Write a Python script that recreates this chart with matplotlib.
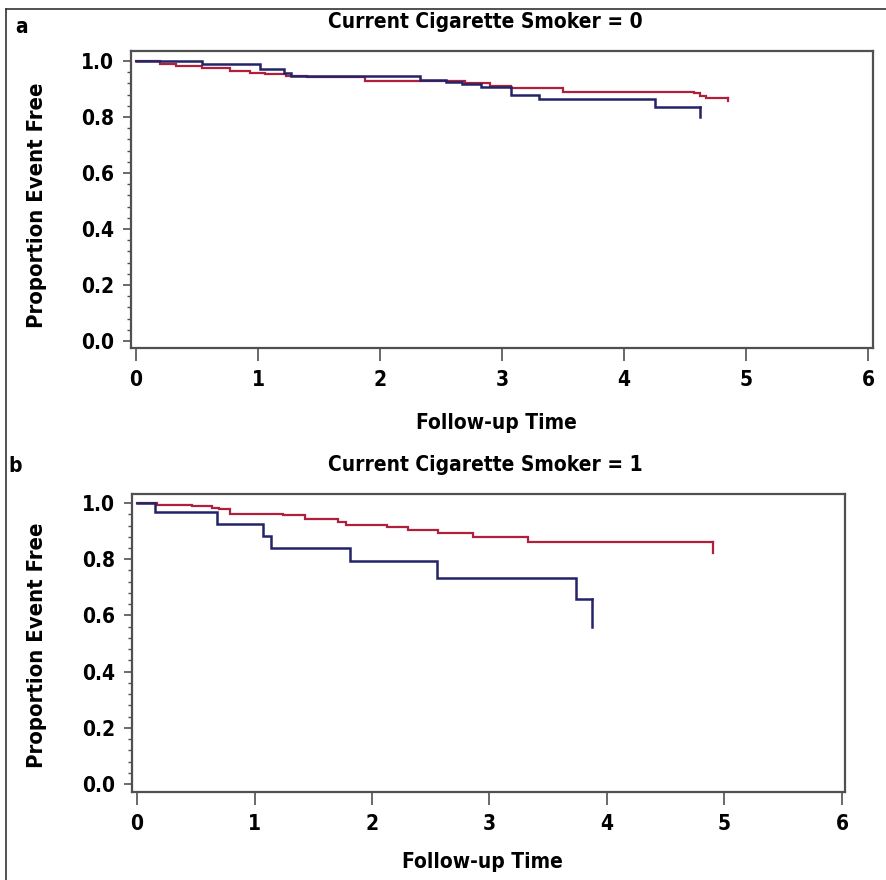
import matplotlib
matplotlib.use("Agg")
import matplotlib.pyplot as plt
from matplotlib.lines import Line2D
from matplotlib.ticker import MultipleLocator

FONT = ['DejaVu Sans']
plt.rcParams['font.family'] = FONT
plt.rcParams['font.weight'] = 'bold'
plt.rcParams['font.stretch'] = 'condensed'

# ---- data (step curves: time, proportion event free) ----
a_g1_t = [0, 0.54, 1.02, 1.21, 1.27, 2.33, 2.54, 2.67, 2.83, 3.07, 3.30, 4.25, 4.62]
a_g1_s = [1.0, 0.990, 0.972, 0.958, 0.948, 0.931, 0.925, 0.917, 0.909, 0.879, 0.863, 0.836, 0.836]
a_g1_end = 0.800

a_g2_t = [0, 0.20, 0.33, 0.54, 0.77, 0.93, 1.06, 1.23, 1.40, 1.88, 2.70, 2.90, 3.07, 3.50, 4.57, 4.62, 4.67, 4.85]
a_g2_s = [1.0, 0.990, 0.984, 0.976, 0.966, 0.958, 0.952, 0.947, 0.942, 0.927, 0.920, 0.912, 0.903, 0.891, 0.885, 0.876, 0.869, 0.869]
a_g2_end = 0.858

b_g1_t = [0, 0.15, 0.68, 1.075, 1.14, 1.81, 2.55, 3.74, 3.87]
b_g1_s = [1.0, 0.969, 0.925, 0.883, 0.841, 0.795, 0.732, 0.657, 0.657]
b_g1_end = 0.560

b_g2_t = [0, 0.17, 0.47, 0.64, 0.70, 0.79, 1.24, 1.43, 1.71, 1.78, 2.13, 2.31, 2.56, 2.86, 3.33, 4.90]
b_g2_s = [1.0, 0.994, 0.990, 0.984, 0.977, 0.960, 0.956, 0.944, 0.932, 0.923, 0.913, 0.903, 0.892, 0.880, 0.863, 0.863]
b_g2_end = 0.822

x_ticks = [0, 1, 2, 3, 4, 5, 6]
y_ticks = [0.0, 0.2, 0.4, 0.6, 0.8, 1.0]
titles = ["Current Cigarette Smoker = 0", "Current Cigarette Smoker = 1"]
panel_labels = ["a", "b"]

NAVY = '#232368'
RED = '#b0203c'
SPINE = '#505050'

fig = plt.figure(figsize=(8.86, 8.80), dpi=100)

ax_a = fig.add_axes([0.1479, 0.6045, 0.8375, 0.3375])
ax_b = fig.add_axes([0.1490, 0.1000, 0.8047, 0.3386])


def draw_curve(ax, t, s, end, color, lw, z):
    ax.step(t, s, where='post', color=color, lw=lw, zorder=z, solid_joinstyle='miter')
    ax.plot([t[-1], t[-1]], [s[-1], end], color=color, lw=lw, zorder=z)


draw_curve(ax_a, a_g2_t, a_g2_s, a_g2_end, RED, 1.6, 3)
draw_curve(ax_a, a_g1_t, a_g1_s, a_g1_end, NAVY, 1.8, 4)
draw_curve(ax_b, b_g2_t, b_g2_s, b_g2_end, RED, 1.6, 3)
draw_curve(ax_b, b_g1_t, b_g1_s, b_g1_end, NAVY, 1.8, 4)

settings = [
    (ax_a, (-0.041, 6.041), (-0.025, 1.0357), (0.477, 1.098), (0.493, -0.2525), (-0.1267, 0.481)),
    (ax_b, (-0.0426, 6.026), (-0.0285, 1.032), (0.495, 1.097), (0.492, -0.235), (-0.133, 0.493)),
]

for i, (ax, xl, yl, tpos, xlpos, ylpos) in enumerate(settings):
    ax.set_xlim(*xl)
    ax.set_ylim(*yl)
    ax.set_xticks(x_ticks)
    ax.set_yticks(y_ticks)
    ax.set_xticklabels([str(v) for v in x_ticks])
    ax.set_yticklabels([f"{v:.1f}" for v in y_ticks])
    ax.yaxis.set_minor_locator(MultipleLocator(0.04))
    ax.tick_params(axis='x', which='major', direction='out', length=9, width=1.2,
                   color=SPINE, labelsize=15, pad=7)
    ax.tick_params(axis='y', which='major', direction='out', length=6, width=1.2,
                   color=SPINE, labelsize=15, pad=6)
    ax.tick_params(axis='y', which='minor', direction='out', length=3, width=1.0, color=SPINE)
    for lab in ax.get_xticklabels() + ax.get_yticklabels():
        lab.set_fontweight('bold')
    for sp in ax.spines.values():
        sp.set_color(SPINE)
        sp.set_linewidth(1.6)
    ax.set_title(titles[i], x=tpos[0], y=tpos[1], va='center', fontsize=15,
                 fontweight='bold', pad=0)
    ax.set_xlabel("Follow-up Time", fontsize=15, fontweight='bold')
    ax.xaxis.set_label_coords(*xlpos)
    ax.xaxis.label.set_va('center')
    ax.set_ylabel("Proportion Event Free", fontsize=15.8, fontweight='bold')
    ax.yaxis.set_label_coords(*ylpos)
    ax.yaxis.label.set_va('center')

fig.text(22 / 886, 1 - 27 / 880, panel_labels[0], fontsize=15, fontweight='bold', ha='center', va='center')
fig.text(15 / 886, 1 - 466 / 880, panel_labels[1], fontsize=15, fontweight='bold', ha='center', va='center')

# outer frame (left and top edges)
fig.add_artist(Line2D([6 / 886, 6 / 886], [0, 1 - 9 / 880], transform=fig.transFigure,
                      color='#333333', lw=1.2))
fig.add_artist(Line2D([6 / 886, 1], [1 - 9 / 880, 1 - 9 / 880], transform=fig.transFigure,
                      color='#333333', lw=1.2))

fig.savefig("out.png", dpi=100)
